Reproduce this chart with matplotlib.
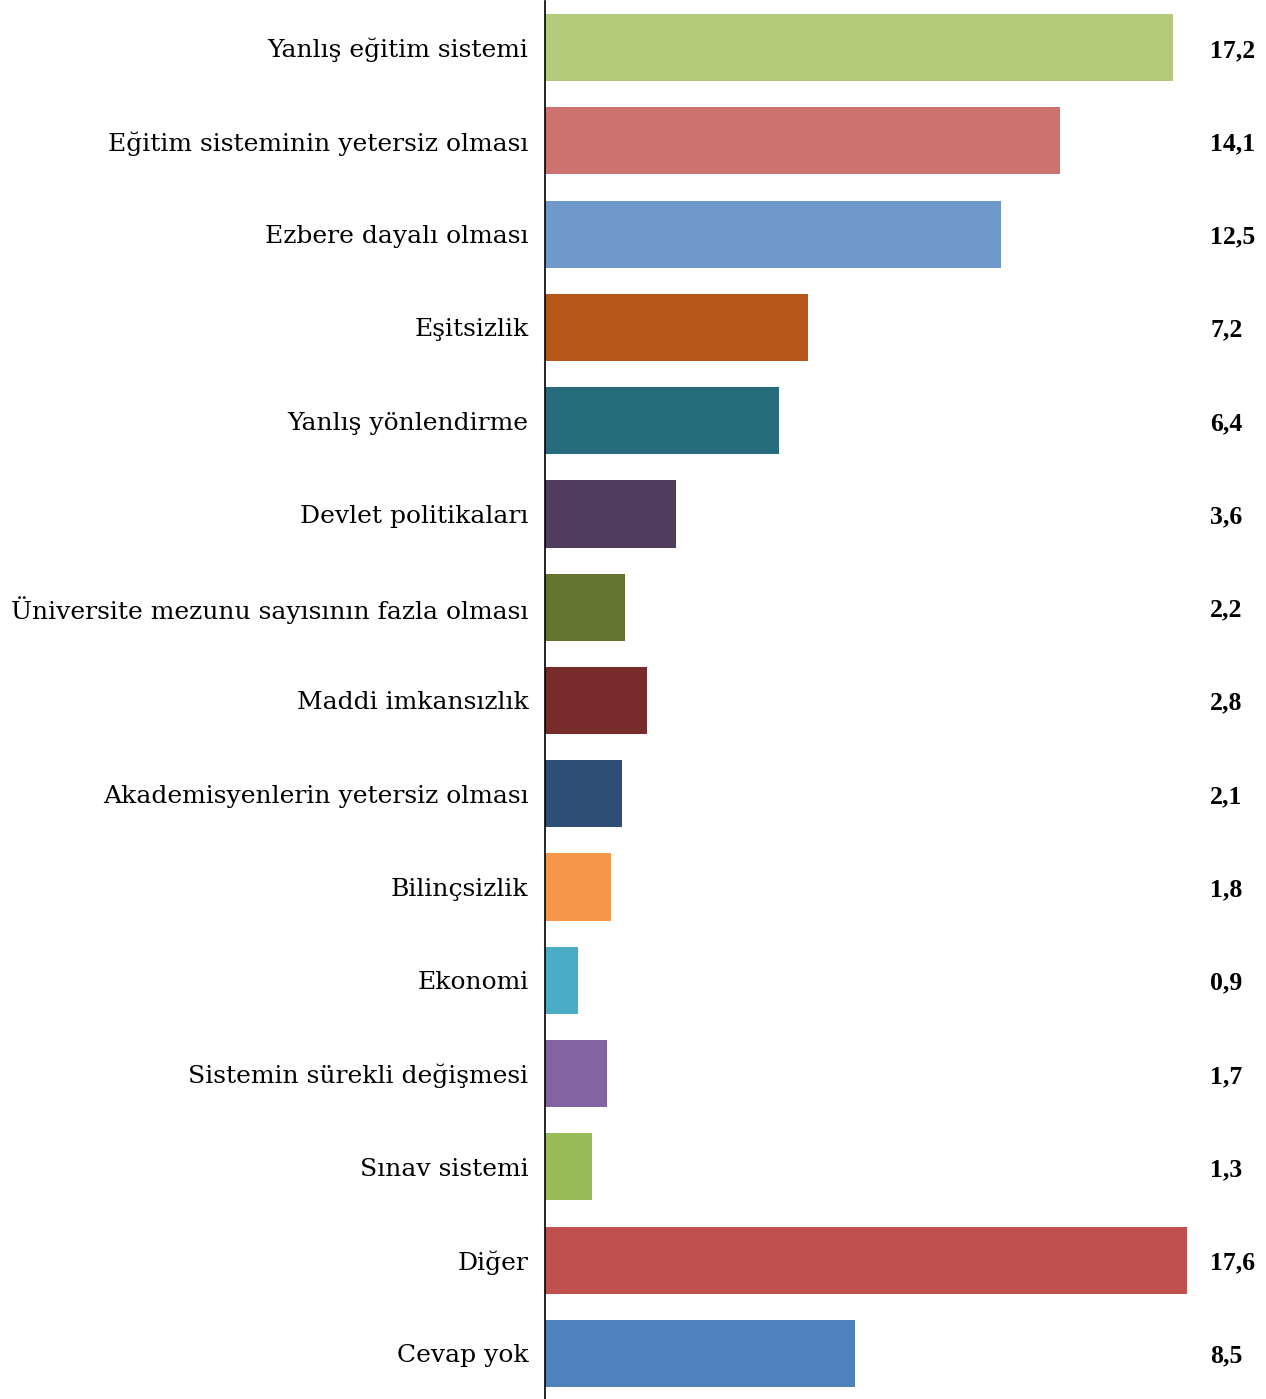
import numpy as np
import matplotlib.pyplot as plt

labels = ['Yanlış eğitim sistemi', 'Eğitim sisteminin yetersiz olması', 'Ezbere dayalı olması',
          'Eşitsizlik', 'Yanlış yönlendirme', 'Devlet politikaları',
          'Üniversite mezunu sayısının fazla olması', 'Maddi imkansızlık',
          'Akademisyenlerin yetersiz olması', 'Bilinçsizlik', 'Ekonomi',
          'Sistemin sürekli değişmesi', 'Sınav sistemi', 'Diğer', 'Cevap yok']
values = [17.2, 14.1, 12.5, 7.2, 6.4, 3.6, 2.2, 2.8, 2.1, 1.8, 0.9, 1.7, 1.3, 17.6, 8.5]
colors = ['#B2CA7A', '#CC7370', '#7099CB', '#B45719', '#276C7C', '#4F3C5E', '#62742F',
          '#782B2B', '#2D4F76', '#F5964A', '#4BACC6', '#8264A2', '#9BBB59', '#C0504D', '#4F81BD']

plt.rcParams['font.family'] = ['DejaVu Serif']

fig = plt.figure(figsize=(12.66, 13.99), dpi=100)
ax = fig.add_axes([545 / 1266, -1 / 1399, 1 - 545 / 1266, 1.0])

y = np.arange(len(values))
ax.barh(y, values, height=0.72, color=colors)
ax.set_ylim(len(values) - 0.5, -0.5)
ax.set_xlim(0, 721 / 36.5)
ax.set_yticks(y)
ax.set_yticklabels(labels, fontsize=18)
ax.tick_params(axis='y', length=0, pad=12)
ax.set_xticks([])
for s in ['top', 'right', 'bottom']:
    ax.spines[s].set_visible(False)
ax.spines['left'].set_linewidth(1.2)

for i, v in enumerate(values):
    ax.annotate(f'{v:.1f}'.replace('.', ','), xy=((1210 - 545) / 721, i),
                xycoords=('axes fraction', 'data'), xytext=(0, -2),
                textcoords='offset points', ha='left', va='center',
                fontsize=18.5, fontweight='bold', family='Liberation Serif')

fig.savefig('out.png')
